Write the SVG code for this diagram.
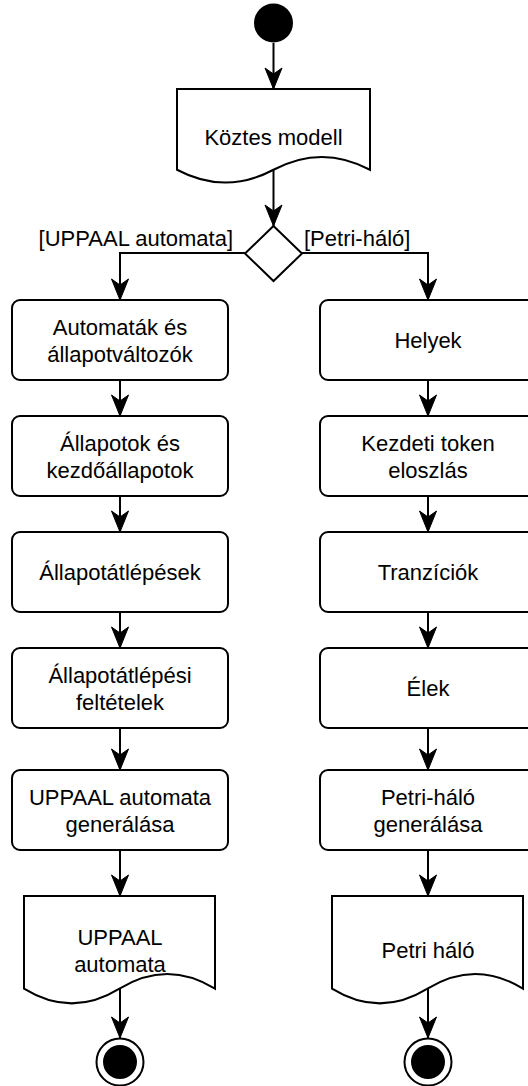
<svg xmlns="http://www.w3.org/2000/svg" width="528" height="1086" viewBox="0 0 528 1086">
<defs>
<marker id="arr" markerUnits="userSpaceOnUse" markerWidth="24" markerHeight="20" viewBox="-22 -10 24 20" refX="0" refY="0" orient="auto">
<path d="M0,0 L-21,-8.5 L-15,0 L-21,8.5 Z" fill="#000" stroke="#000" stroke-width="1"/>
</marker>
</defs>
<style>
text{font-family:"Liberation Sans",Arial,sans-serif;font-size:22px;fill:#000;}
.c{text-anchor:middle;}
.box{fill:#fff;stroke:#000;stroke-width:2;}
.edge{fill:none;stroke:#000;stroke-width:2;marker-end:url(#arr);}
</style>
<rect width="528" height="1086" fill="#fff"/>
<g id="connectors">
<line class="edge" x1="273.5" y1="43" x2="273.5" y2="89"/>
<line class="edge" x1="273.5" y1="170" x2="273.5" y2="226"/>
<polyline class="edge" points="245,253 120,253 120,300"/>
<polyline class="edge" points="302,253 428,253 428,300"/>
<line class="edge" x1="120" y1="380" x2="120" y2="416"/>
<line class="edge" x1="120" y1="496" x2="120" y2="532"/>
<line class="edge" x1="120" y1="612" x2="120" y2="648"/>
<line class="edge" x1="120" y1="728" x2="120" y2="770"/>
<line class="edge" x1="120" y1="850" x2="120" y2="896"/>
<line class="edge" x1="120" y1="989" x2="120" y2="1038"/>
<line class="edge" x1="428" y1="380" x2="428" y2="416"/>
<line class="edge" x1="428" y1="496" x2="428" y2="532"/>
<line class="edge" x1="428" y1="612" x2="428" y2="648"/>
<line class="edge" x1="428" y1="728" x2="428" y2="770"/>
<line class="edge" x1="428" y1="850" x2="428" y2="896"/>
<line class="edge" x1="428" y1="989" x2="428" y2="1038"/>
<text x="233" y="246" text-anchor="end">[UPPAAL automata]</text>
<text x="304" y="246">[Petri-háló]</text>
</g>
<g id="start"><circle cx="273.5" cy="23" r="19.5" fill="#000"/></g>
<g id="koztes">
<path class="box" d="M177,89 H370 V169.75 Q321.75,144.1 273.5,169.75 Q225.25,195.4 177,169.75 Z"/>
<text class="c" x="273.5" y="145">Köztes modell</text>
</g>
<g id="decision"><path class="box" d="M273.5,226 L302,253.5 L273.5,281 L245,253.5 Z"/></g>
<g id="l1"><rect class="box" x="12" y="300" width="216" height="80" rx="8"/><text class="c" x="120" y="335">Automaták és</text><text class="c" x="120" y="361.5">állapotváltozók</text></g>
<g id="l2"><rect class="box" x="12" y="416" width="216" height="80" rx="8"/><text class="c" x="120" y="451">Állapotok és</text><text class="c" x="120" y="477.5">kezdőállapotok</text></g>
<g id="l3"><rect class="box" x="12" y="532" width="216" height="80" rx="8"/><text class="c" x="120" y="580">Állapotátlépések</text></g>
<g id="l4"><rect class="box" x="12" y="648" width="216" height="80" rx="8"/><text class="c" x="120" y="683">Állapotátlépési</text><text class="c" x="120" y="709.5">feltételek</text></g>
<g id="l5"><rect class="box" x="12" y="770" width="216" height="80" rx="8"/><text class="c" x="120" y="805">UPPAAL automata</text><text class="c" x="120" y="831.5">generálása</text></g>
<g id="ldoc">
<path class="box" d="M24,896 H215 V988.65 Q167.25,959.2 119.5,988.65 Q71.75,1018.1 24,988.65 Z"/>
<text class="c" x="120" y="945">UPPAAL</text><text class="c" x="120" y="971.5">automata</text>
</g>
<g id="lend"><circle cx="120" cy="1062" r="23.5" fill="#fff" stroke="#000" stroke-width="2"/><circle cx="120" cy="1062" r="17" fill="#000"/></g>
<g id="r1"><rect class="box" x="320" y="300" width="216" height="80" rx="8"/><text class="c" x="428" y="348">Helyek</text></g>
<g id="r2"><rect class="box" x="320" y="416" width="216" height="80" rx="8"/><text class="c" x="428" y="451">Kezdeti token</text><text class="c" x="428" y="477.5">eloszlás</text></g>
<g id="r3"><rect class="box" x="320" y="532" width="216" height="80" rx="8"/><text class="c" x="428" y="580">Tranzíciók</text></g>
<g id="r4"><rect class="box" x="320" y="648" width="216" height="80" rx="8"/><text class="c" x="428" y="696">Élek</text></g>
<g id="r5"><rect class="box" x="320" y="770" width="216" height="80" rx="8"/><text class="c" x="428" y="805">Petri-háló</text><text class="c" x="428" y="831.5">generálása</text></g>
<g id="rdoc">
<path class="box" d="M332,896 H523 V988.65 Q475.25,959.2 427.5,988.65 Q379.75,1018.1 332,988.65 Z"/>
<text class="c" x="428" y="958">Petri háló</text>
</g>
<g id="rend"><circle cx="428" cy="1062" r="23.5" fill="#fff" stroke="#000" stroke-width="2"/><circle cx="428" cy="1062" r="17" fill="#000"/></g>
</svg>
